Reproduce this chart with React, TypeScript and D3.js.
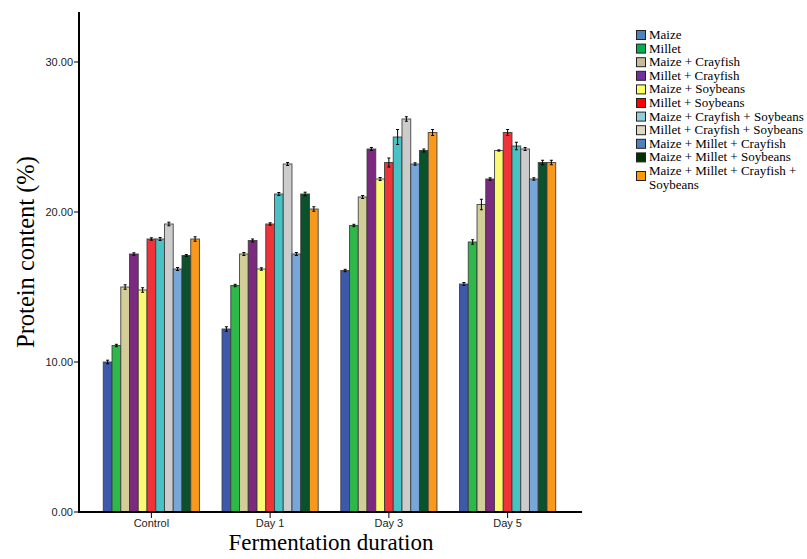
import React from "react";
import * as d3 from "d3";

const categories = ["Control", "Day 1", "Day 3", "Day 5"];

const seriesNames = [
  "Maize",
  "Millet",
  "Maize + Crayfish",
  "Millet + Crayfish",
  "Maize + Soybeans",
  "Millet + Soybeans",
  "Maize + Crayfish + Soybeans",
  "Millet + Crayfish + Soybeans",
  "Maize + Millet + Crayfish",
  "Maize + Millet + Soybeans",
  "Maize + Millet + Crayfish + Soybeans",
];

// Mean protein content (%) per series, one value per fermentation stage
const maize = [10.0, 12.2, 16.1, 15.2];
const millet = [11.1, 15.1, 19.1, 18.0];
const maizeCrayfish = [15.0, 17.2, 21.0, 20.5];
const milletCrayfish = [17.2, 18.1, 24.2, 22.2];
const maizeSoybeans = [14.8, 16.2, 22.2, 24.1];
const milletSoybeans = [18.2, 19.2, 23.3, 25.3];
const maizeCrayfishSoybeans = [18.2, 21.2, 25.0, 24.4];
const milletCrayfishSoybeans = [19.2, 23.2, 26.2, 24.2];
const maizeMilletCrayfish = [16.2, 17.2, 23.2, 22.2];
const maizeMilletSoybeans = [17.1, 21.2, 24.1, 23.3];
const maizeMilletCrayfishSoybeans = [18.2, 20.2, 25.3, 23.3];

// Standard errors
const errMaize = [0.12, 0.15, 0.08, 0.1];
const errMillet = [0.08, 0.08, 0.08, 0.15];
const errMaizeCrayfish = [0.15, 0.1, 0.1, 0.35];
const errMilletCrayfish = [0.08, 0.1, 0.1, 0.08];
const errMaizeSoybeans = [0.15, 0.08, 0.1, 0.04];
const errMilletSoybeans = [0.08, 0.08, 0.3, 0.2];
const errMaizeCrayfishSoybeans = [0.1, 0.1, 0.5, 0.25];
const errMilletCrayfishSoybeans = [0.12, 0.1, 0.15, 0.1];
const errMaizeMilletCrayfish = [0.1, 0.1, 0.08, 0.08];
const errMaizeMilletSoybeans = [0.06, 0.12, 0.1, 0.15];
const errMaizeMilletCrayfishSoybeans = [0.15, 0.15, 0.2, 0.15];

const values = [
  maize, millet, maizeCrayfish, milletCrayfish, maizeSoybeans, milletSoybeans,
  maizeCrayfishSoybeans, milletCrayfishSoybeans, maizeMilletCrayfish,
  maizeMilletSoybeans, maizeMilletCrayfishSoybeans,
];
const errors = [
  errMaize, errMillet, errMaizeCrayfish, errMilletCrayfish, errMaizeSoybeans,
  errMilletSoybeans, errMaizeCrayfishSoybeans, errMilletCrayfishSoybeans,
  errMaizeMilletCrayfish, errMaizeMilletSoybeans, errMaizeMilletCrayfishSoybeans,
];

const yTicks = [0, 10, 20, 30];

const barColors = [
  "#3e58ac", "#2eb84a", "#d3ce98", "#7b2a80", "#fbf873", "#ef3338",
  "#48c2c5", "#cccccc", "#78a6d8", "#09522b", "#f8981d",
];
const legendColors = [
  "#4f81bd", "#00b050", "#c4bd97", "#7030a0", "#ffff66", "#ff0000",
  "#92cddc", "#ddd9c3", "#4f81bd", "#003300", "#ff9900",
];

const W = 807;
const H = 559;
const left = 79;
const right = 582;
const top = 12;
const bottom = 512;

export default function App() {
  const y = d3.scaleLinear().domain([0, 100 / 3]).range([bottom, top]);
  const x0 = d3
    .scaleBand<string>()
    .domain(categories)
    .range([92, 567])
    .paddingInner(0.19)
    .paddingOuter(0.095);
  const x1 = d3
    .scaleBand<number>()
    .domain(d3.range(seriesNames.length))
    .range([0, x0.bandwidth()]);

  const sans = "'Liberation Sans', Arial, sans-serif";
  const serif = "'Liberation Serif', 'Times New Roman', serif";

  const legendRows: { text: string[]; idx: number }[] = seriesNames.map((s, i) =>
    i === seriesNames.length - 1
      ? { text: ["Maize + Millet + Crayfish +", "Soybeans"], idx: i }
      : { text: [s], idx: i }
  );
  const rowH = 13.6;

  return (
    <svg width={W} height={H} style={{ position: "absolute", left: 0, top: 0 }}>
      <rect width={W} height={H} fill="#fff" />
      {/* bars */}
      {categories.map((c, ci) => (
        <g key={c} transform={`translate(${x0(c)},0)`}>
          {values.map((vals, si) => {
            const v = vals[ci];
            const e = errors[si][ci];
            const bx = x1(si)!;
            const bw = x1.bandwidth();
            const cx = bx + bw / 2;
            return (
              <g key={si}>
                <rect
                  x={bx}
                  y={y(v)}
                  width={bw}
                  height={bottom - y(v)}
                  fill={barColors[si]}
                  stroke="#3a3a3a"
                  strokeWidth={1}
                  strokeOpacity={0.85}
                />
                <line x1={cx} x2={cx} y1={y(v + e)} y2={y(v - e)} stroke="#000" strokeWidth={1} />
                <line x1={cx - 1.5} x2={cx + 1.5} y1={y(v + e)} y2={y(v + e)} stroke="#000" strokeWidth={1} />
                <line x1={cx - 1.5} x2={cx + 1.5} y1={y(v - e)} y2={y(v - e)} stroke="#000" strokeWidth={1} />
              </g>
            );
          })}
        </g>
      ))}

      {/* y axis */}
      <line x1={left} x2={left} y1={top} y2={bottom + 1} stroke="#000" strokeWidth={2} />
      {yTicks.map((t) => (
        <g key={t}>
          <line x1={left - 5} x2={left} y1={y(t)} y2={y(t)} stroke="#000" strokeWidth={1} />
          <text
            x={left - 6}
            y={y(t)}
            dy="0.35em"
            textAnchor="end"
            fontFamily={sans}
            fontSize={11}
            fill="#222"
          >
            {t.toFixed(2)}
          </text>
        </g>
      ))}

      {/* x axis */}
      <line x1={left - 1} x2={right} y1={bottom} y2={bottom} stroke="#000" strokeWidth={2} />
      {categories.map((c) => {
        const cx = x0(c)! + x0.bandwidth() / 2;
        return (
          <g key={c}>
            <line x1={cx} x2={cx} y1={bottom} y2={bottom + 6} stroke="#000" strokeWidth={1} />
            <text x={cx} y={bottom + 15} textAnchor="middle" fontFamily={sans} fontSize={11} fill="#222">
              {c}
            </text>
          </g>
        );
      })}

      {/* axis titles */}
      <text
        transform={`translate(34,252) rotate(-90)`}
        textAnchor="middle"
        fontFamily={serif}
        fontSize={24.5}
        fill="#000"
      >
        Protein content (%)
      </text>
      <text x={331} y={550} textAnchor="middle" fontFamily={serif} fontSize={23} fill="#000">
        Fermentation duration
      </text>

      {/* legend */}
      {legendRows.map((r, i) => {
        const ry = 30 + i * rowH;
        return (
          <g key={r.idx}>
            <rect
              x={636.5}
              y={r.text.length > 1 ? ry + 5.5 : ry + 0.5}
              width={9}
              height={9}
              fill={legendColors[r.idx]}
              stroke="#222"
              strokeWidth={1}
            />
            {r.text.map((t, k) => (
              <text key={k} x={649} y={ry + 9 + k * rowH} fontFamily={serif} fontSize={13} fill="#000">
                {t}
              </text>
            ))}
          </g>
        );
      })}
    </svg>
  );
}
